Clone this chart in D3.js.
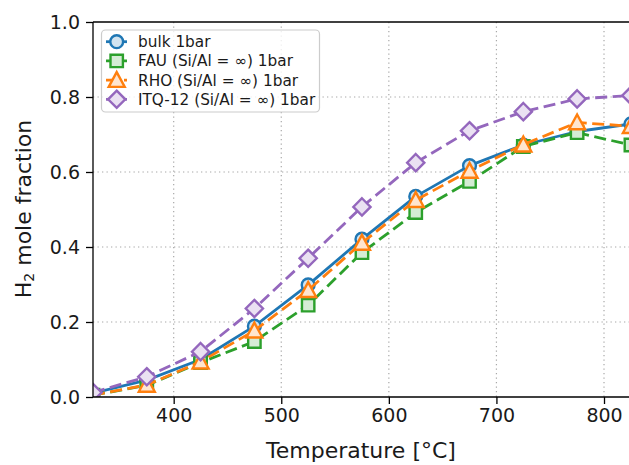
<!DOCTYPE html>
<html>
<head>
<meta charset="utf-8">
<script src="https://cdn.jsdelivr.net/npm/d3@7"></script>
<style>
  html, body { margin: 0; padding: 0; background: #fff; overflow: hidden; }
  svg { display: block; font-family: "DejaVu Sans", sans-serif; }
</style>
</head>
<body>
<svg id="chart" width="629" height="465"></svg>
<script>
// Temperatures (°C)
const temperatures = [325, 375, 425, 475, 525, 575, 625, 675, 725, 775, 825];

// H2 mole fraction per material at 1 bar
const bulk  = [0.010, 0.045, 0.100, 0.189, 0.299, 0.421, 0.535, 0.617, 0.672, 0.708, 0.728];
const fau   = [0.005, 0.031, 0.092, 0.148, 0.245, 0.385, 0.492, 0.575, 0.668, 0.705, 0.672];
const rho   = [0.005, 0.032, 0.094, 0.177, 0.285, 0.411, 0.525, 0.603, 0.673, 0.732, 0.722];
const itq12 = [0.012, 0.054, 0.121, 0.236, 0.370, 0.507, 0.625, 0.710, 0.761, 0.795, 0.804];

const seriesNames = ["bulk 1bar", "FAU (Si/Al = ∞) 1bar", "RHO (Si/Al = ∞) 1bar", "ITQ-12 (Si/Al = ∞) 1bar"];

const xTicks = [400, 500, 600, 700, 800];
const yTicks = [0.0, 0.2, 0.4, 0.6, 0.8, 1.0];

const series = [
  { name: seriesNames[0], values: bulk,  color: "#1f77b4", fill: "#d2e4f0", marker: "circle",   dash: null },
  { name: seriesNames[1], values: fau,   color: "#2ca02c", fill: "#d5ecd5", marker: "square",   dash: "12,5.5" },
  { name: seriesNames[2], values: rho,   color: "#ff7f0e", fill: "#ffe5cf", marker: "triangle", dash: "12,5.5" },
  { name: seriesNames[3], values: itq12, color: "#9467bd", fill: "#eae1f2", marker: "diamond",  dash: "12,5.5" }
];

const svg = d3.select("#chart");
const plotLeft = 93, plotTop = 22, plotBottom = 397;

const x = d3.scaleLinear().domain([325, 825]).range([plotLeft, plotLeft + 500 * 1.0758]);
const y = d3.scaleLinear().domain([0, 1]).range([plotBottom, plotTop]);
const plotRight = x(825);

// Marker outline paths centred at 0,0
function markerPath(kind) {
  switch (kind) {
    case "circle":   { const r = 6.4; return `M${r},0A${r},${r} 0 1,1 ${-r},0A${r},${r} 0 1,1 ${r},0Z`; }
    case "square":   { const h = 6.2; return `M${-h},${-h}H${h}V${h}H${-h}Z`; }
    case "triangle": { const h = 8; return `M0,${-h}L${h},${h * 0.85}L${-h},${h * 0.85}Z`; }
    case "diamond":  { const h = 8.6; return `M0,${-h}L${h},0L0,${h}L${-h},0Z`; }
  }
}

// Clip region for plotted data
svg.append("defs").append("clipPath").attr("id", "plotClip")
  .append("rect").attr("x", plotLeft).attr("y", plotTop)
  .attr("width", plotRight - plotLeft).attr("height", plotBottom - plotTop);

// Grid
const grid = svg.append("g").attr("stroke", "#a8a8a8").attr("stroke-width", 1.2).attr("stroke-dasharray", "1.3,3.2");
grid.selectAll("line.v").data(xTicks).join("line").attr("class", "v")
  .attr("x1", d => x(d)).attr("x2", d => x(d)).attr("y1", plotTop).attr("y2", plotBottom);
grid.selectAll("line.h").data(yTicks.filter(d => d > 0 && d < 1)).join("line").attr("class", "h")
  .attr("x1", plotLeft).attr("x2", plotRight).attr("y1", d => y(d)).attr("y2", d => y(d));

// Series lines and markers
const plot = svg.append("g").attr("clip-path", "url(#plotClip)");
const line = d3.line().x((d, i) => x(temperatures[i])).y(d => y(d));
series.forEach(s => {
  const g = plot.append("g");
  g.append("path").datum(s.values)
    .attr("d", line).attr("fill", "none").attr("stroke", s.color)
    .attr("stroke-width", 2.8).attr("stroke-dasharray", s.dash)
    .attr("stroke-linejoin", "round");
  g.selectAll("path.m").data(s.values).join("path")
    .attr("class", "m")
    .attr("transform", (d, i) => `translate(${x(temperatures[i])},${y(d)})`)
    .attr("d", markerPath(s.marker))
    .attr("fill", s.fill).attr("stroke", s.color).attr("stroke-width", 2.4);
});

// Axes
const xAxis = d3.axisBottom(x).tickValues(xTicks).tickFormat(d3.format("d")).tickSizeOuter(0).tickSize(7).tickPadding(5);
const yAxis = d3.axisLeft(y).tickValues(yTicks).tickFormat(d3.format(".1f")).tickSizeOuter(0).tickSize(7).tickPadding(6);

const gx = svg.append("g").attr("transform", `translate(0,${plotBottom})`).call(xAxis);
const gy = svg.append("g").attr("transform", `translate(${plotLeft},0)`).call(yAxis);
[gx, gy].forEach(g => {
  g.select(".domain").remove();
  g.selectAll(".tick line").attr("stroke", "#000").attr("stroke-width", 1.3);
  g.selectAll(".tick text").attr("fill", "#1a1a1a").attr("font-size", 19)
    .attr("font-family", "DejaVu Sans, sans-serif");
});
gy.selectAll(".tick text").attr("dy", "0.36em");

// Spines
svg.append("line").attr("x1", plotLeft).attr("x2", plotLeft).attr("y1", plotTop).attr("y2", plotBottom)
  .attr("stroke", "#000").attr("stroke-width", 1.3);
svg.append("line").attr("x1", plotLeft).attr("x2", plotRight).attr("y1", plotBottom).attr("y2", plotBottom)
  .attr("stroke", "#000").attr("stroke-width", 1.3);
svg.append("line").attr("x1", plotLeft).attr("x2", plotRight).attr("y1", plotTop).attr("y2", plotTop)
  .attr("stroke", "#000").attr("stroke-width", 1.3);

// Axis titles
svg.append("text").attr("x", 361).attr("y", 458).attr("text-anchor", "middle")
  .attr("font-size", 22).attr("fill", "#1a1a1a").text("Temperature [°C]");
const yl = svg.append("text").attr("transform", "translate(31,209) rotate(-90)")
  .attr("text-anchor", "middle").attr("font-size", 22).attr("fill", "#1a1a1a");
yl.append("tspan").text("H");
yl.append("tspan").attr("font-size", 14).attr("dy", 3).text("2");
yl.append("tspan").attr("dy", -3).text(" mole fraction");

// Legend
const legend = svg.append("g");
legend.append("rect").attr("x", 101.5).attr("y", 30).attr("width", 218).attr("height", 82)
  .attr("rx", 4).attr("fill", "#fff").attr("fill-opacity", 0.8)
  .attr("stroke", "#cccccc").attr("stroke-width", 1.2);
series.forEach((s, i) => {
  const cy = 41.7 + i * 19.2;
  legend.append("line").attr("x1", 106).attr("x2", 127).attr("y1", cy).attr("y2", cy)
    .attr("stroke", s.color).attr("stroke-width", 2.8).attr("stroke-dasharray", s.dash ? "6,3" : null);
  legend.append("path").attr("transform", `translate(116.7,${cy})`)
    .attr("d", markerPath(s.marker)).attr("fill", s.fill).attr("stroke", s.color).attr("stroke-width", 2.4);
  legend.append("text").attr("x", 138).attr("y", cy).attr("dy", "0.36em")
    .attr("font-size", 15.3).attr("fill", "#1a1a1a").text(s.name);
});
</script>
</body>
</html>
